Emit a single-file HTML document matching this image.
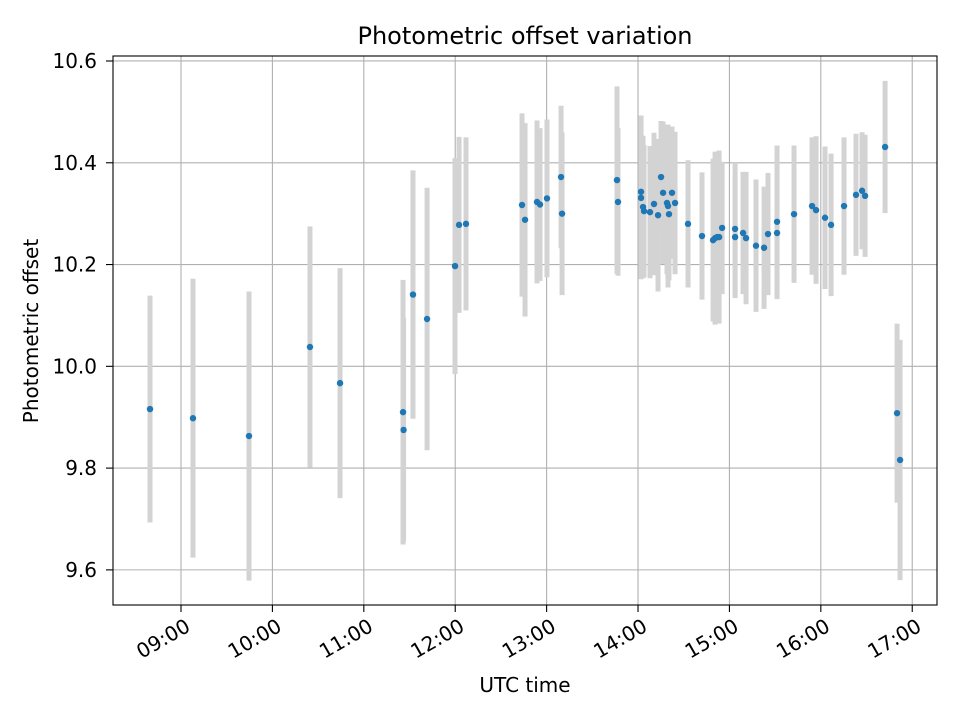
<!DOCTYPE html>
<html><head><meta charset="utf-8"><style>
html,body{margin:0;padding:0;background:#fff;}
svg{display:block;font-family:"DejaVu Sans","Liberation Sans",sans-serif;}
</style></head><body>
<svg id="chart" width="960" height="720" xmlns="http://www.w3.org/2000/svg">
<text x="525" y="44" text-anchor="middle" font-size="24">Photometric offset variation</text>
<text x="525" y="692" text-anchor="middle" font-size="20">UTC time</text>
<text transform="translate(38,331) rotate(-90)" text-anchor="middle" font-size="20">Photometric offset</text>
<g id="grid"></g><g id="bars"></g><g id="dots"></g><g id="axes"></g>
</svg>
<script>
const times=[8.661,9.131,9.744,10.411,10.740,11.429,11.435,11.538,11.692,11.998,12.042,12.118,12.731,12.764,12.895,12.928,13.004,13.158,13.169,13.770,13.781,14.033,14.033,14.055,14.066,14.131,14.175,14.219,14.252,14.274,14.317,14.328,14.339,14.372,14.405,14.547,14.700,14.821,14.843,14.865,14.887,14.920,15.062,15.062,15.149,15.182,15.291,15.379,15.422,15.521,15.521,15.707,15.904,15.948,16.046,16.112,16.254,16.385,16.451,16.484,16.703,16.834,16.867];
const offsets=[9.916,9.898,9.863,10.038,9.967,9.910,9.875,10.141,10.093,10.197,10.278,10.280,10.317,10.288,10.323,10.318,10.330,10.372,10.300,10.366,10.323,10.343,10.331,10.313,10.305,10.303,10.319,10.297,10.372,10.341,10.321,10.315,10.299,10.341,10.321,10.280,10.256,10.248,10.252,10.254,10.254,10.272,10.254,10.270,10.262,10.252,10.237,10.233,10.260,10.284,10.262,10.299,10.315,10.307,10.292,10.278,10.315,10.337,10.345,10.335,10.431,9.908,9.816];
const errors=[0.223,0.274,0.284,0.237,0.226,0.26,0.22,0.244,0.258,0.212,0.173,0.170,0.180,0.190,0.160,0.150,0.155,0.140,0.160,0.184,0.145,0.15,0.16,0.14,0.13,0.13,0.14,0.15,0.11,0.14,0.14,0.16,0.13,0.13,0.14,0.125,0.125,0.16,0.17,0.14,0.17,0.13,0.12,0.13,0.12,0.13,0.13,0.12,0.12,0.15,0.13,0.135,0.135,0.145,0.14,0.14,0.135,0.12,0.115,0.12,0.13,0.176,0.236];
const xTicks=[9,10,11,12,13,14,15,16,17];
const yTicks=[9.6,9.8,10.0,10.2,10.4,10.6];
const L=113,R=937,T=56,B=605;
const xMin=8.256,xMax=17.271,yMin=9.531,yMax=10.6098;
const sx=v=>L+(v-xMin)/(xMax-xMin)*(R-L);
const sy=v=>B-(v-yMin)/(yMax-yMin)*(B-T);
const NS="http://www.w3.org/2000/svg";
function mk(tag,attrs,parent){const e=document.createElementNS(NS,tag);for(const k in attrs)e.setAttribute(k,attrs[k]);document.getElementById(parent).appendChild(e);return e;}
xTicks.forEach(t=>{
  const x=sx(t);
  const g=mk('line',{x1:x,x2:x,y1:T,y2:B,stroke:'#b0b0b0','stroke-width':1.1},'grid');
  
  
  const tk=mk('line',{x1:x,x2:x,y1:B,y2:B+7,stroke:'#000','stroke-width':1.1},'axes');
  
  
  const lb=mk('text',{transform:`translate(${x+3},${B+12}) rotate(-30)`,'text-anchor':'end','dominant-baseline':'hanging','font-size':20},'axes');
  lb.textContent=String(t).padStart(2,'0')+':00';
  
  
});
yTicks.forEach(t=>{
  const y=sy(t);
  const g=mk('line',{x1:L,x2:R,y1:y,y2:y,stroke:'#b0b0b0','stroke-width':1.1},'grid');
  
  
  const tk=mk('line',{x1:L-7,x2:L,y1:y,y2:y,stroke:'#000','stroke-width':1.1},'axes');
  
  
  const lb=mk('text',{x:L-16,y:y+7,'text-anchor':'end','font-size':20},'axes');
  lb.textContent=t.toFixed(1);
  
  
});
const frame=mk('rect',{x:L,y:T,width:R-L,height:B-T,fill:'none',stroke:'#000','stroke-width':1.1},'axes');


times.forEach((t,i)=>{
  const x=sx(t);
  const b=mk('line',{x1:x,x2:x,y1:sy(offsets[i]+errors[i]),y2:sy(offsets[i]-errors[i]),stroke:'#d3d3d3','stroke-width':5},'bars');
  
  
});
times.forEach((t,i)=>{
  const c=mk('circle',{cx:sx(t),cy:sy(offsets[i]),r:3.2,fill:'#1f77b4'},'dots');
  
  
});
</script>
</body></html>
